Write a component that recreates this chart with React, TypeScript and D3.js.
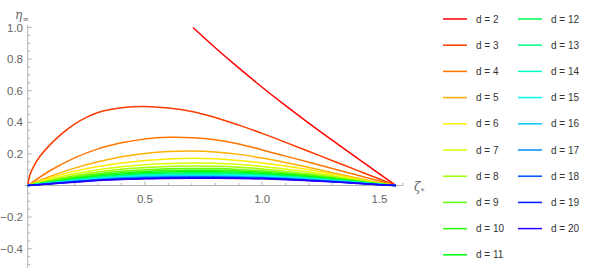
import React from 'react';
import * as d3 from 'd3';

// values
const zetaGrid = [0, 0.1, 0.2, 0.3, 0.4, 0.5, 0.6, 0.7, 0.8, 0.9, 1.0, 1.1, 1.2, 1.3, 1.4, 1.5, 1.5708];

const zetaD2 = [0.705, 0.8, 0.9, 1.0, 1.1, 1.2, 1.3, 1.4, 1.5, 1.5708];
const etaD2 = [1.0, 0.872, 0.744, 0.622, 0.505, 0.393, 0.285, 0.18, 0.073, 0];

const zetaD3 = [0, 0.01, 0.025, 0.05, 0.1, 0.15, 0.2, 0.25, 0.3, 0.4, 0.5, 0.6, 0.7, 0.8, 0.9, 1.0, 1.1, 1.2, 1.3, 1.4, 1.5, 1.5708];
const etaD3 = [0, 0.07, 0.12, 0.18, 0.265, 0.333, 0.388, 0.431, 0.462, 0.492, 0.5, 0.49, 0.468, 0.43, 0.382, 0.33, 0.273, 0.215, 0.157, 0.099, 0.041, 0];

const etaD4 = [0, 0.098, 0.175, 0.232, 0.27, 0.295, 0.305, 0.303, 0.29, 0.263, 0.225, 0.186, 0.147, 0.107, 0.068, 0.028, 0];
const etaD5 = [0, 0.06, 0.11, 0.15, 0.182, 0.203, 0.215, 0.218, 0.212, 0.197, 0.174, 0.146, 0.114, 0.081, 0.049, 0.017, 0];
const etaD6 = [0, 0.05, 0.09, 0.12, 0.142, 0.158, 0.168, 0.172, 0.169, 0.159, 0.143, 0.123, 0.099, 0.072, 0.044, 0.015, 0];
const etaD7 = [0, 0.04, 0.074, 0.1, 0.119, 0.132, 0.14, 0.143, 0.141, 0.133, 0.121, 0.104, 0.085, 0.062, 0.038, 0.013, 0];
const etaD8 = [0, 0.034, 0.063, 0.086, 0.103, 0.114, 0.121, 0.123, 0.122, 0.116, 0.105, 0.091, 0.074, 0.055, 0.034, 0.012, 0];
const etaD9 = [0, 0.029, 0.055, 0.075, 0.09, 0.1, 0.106, 0.108, 0.107, 0.102, 0.093, 0.081, 0.066, 0.049, 0.03, 0.011, 0];
const etaD10 = [0, 0.025, 0.048, 0.066, 0.08, 0.089, 0.095, 0.097, 0.096, 0.092, 0.084, 0.073, 0.06, 0.044, 0.027, 0.01, 0];
const etaD11 = [0, 0.022, 0.043, 0.06, 0.072, 0.081, 0.086, 0.088, 0.087, 0.084, 0.077, 0.067, 0.055, 0.04, 0.025, 0.009, 0];
const etaD12 = [0, 0.02, 0.039, 0.054, 0.066, 0.074, 0.078, 0.08, 0.08, 0.077, 0.071, 0.062, 0.05, 0.037, 0.023, 0.008, 0];
const etaD13 = [0, 0.018, 0.035, 0.05, 0.061, 0.068, 0.072, 0.074, 0.074, 0.071, 0.066, 0.057, 0.047, 0.035, 0.021, 0.008, 0];
const etaD14 = [0, 0.017, 0.033, 0.046, 0.056, 0.063, 0.067, 0.068, 0.068, 0.066, 0.061, 0.053, 0.044, 0.032, 0.02, 0.007, 0];
const etaD15 = [0, 0.015, 0.03, 0.043, 0.052, 0.058, 0.062, 0.063, 0.063, 0.061, 0.057, 0.05, 0.041, 0.03, 0.019, 0.007, 0];
const etaD16 = [0, 0.014, 0.028, 0.04, 0.049, 0.055, 0.058, 0.059, 0.059, 0.057, 0.053, 0.047, 0.038, 0.028, 0.018, 0.006, 0];
const etaD17 = [0, 0.013, 0.026, 0.037, 0.046, 0.051, 0.054, 0.055, 0.055, 0.053, 0.05, 0.044, 0.036, 0.027, 0.017, 0.006, 0];
const etaD18 = [0, 0.012, 0.024, 0.035, 0.043, 0.048, 0.051, 0.052, 0.052, 0.05, 0.047, 0.041, 0.034, 0.025, 0.016, 0.005, 0];
const etaD19 = [0, 0.011, 0.023, 0.033, 0.04, 0.045, 0.048, 0.049, 0.049, 0.047, 0.044, 0.039, 0.032, 0.024, 0.015, 0.005, 0];
const etaD20 = [0, 0.011, 0.021, 0.031, 0.038, 0.043, 0.045, 0.046, 0.046, 0.045, 0.042, 0.037, 0.03, 0.023, 0.014, 0.005, 0];

const yTicks = [-0.4, -0.2, 0.2, 0.4, 0.6, 0.8, 1.0];
const xTicks = [0.5, 1.0, 1.5];

const series = [
  { d: 2, zeta: zetaD2, eta: etaD2 },
  { d: 3, zeta: zetaD3, eta: etaD3 },
  ...[etaD4, etaD5, etaD6, etaD7, etaD8, etaD9, etaD10, etaD11, etaD12, etaD13, etaD14, etaD15, etaD16, etaD17, etaD18, etaD19, etaD20]
    .map((eta, i) => ({ d: i + 4, zeta: zetaGrid, eta })),
];

const hueFor = (d: number) => d3.hsl(((d - 2) / 18) * 0.69 * 360, 1, 0.5).toString();

const App = () => {
  const x = d3.scaleLinear().domain([0, 1.5]).range([27.7, 379.4]);
  const y = d3.scaleLinear().domain([0, 1]).range([185.5, 27.5]);

  const line = d3.line<[number, number]>()
    .x(p => x(p[0]))
    .y(p => y(p[1]))
    .curve(d3.curveCatmullRom.alpha(0.5));

  const axisColor = '#b3b3b3';
  const labelColor = '#666';
  const font = '"Liberation Sans", Arial, sans-serif';

  const yMinor = d3.range(-10, 21).map(i => i * 0.05).filter(v => Math.abs(Math.round(v * 20) % 4) !== 0);
  const xMinor = d3.range(1, 17).map(i => i * 0.1).filter(v => Math.abs(Math.round(v * 10) % 5) !== 0);

  return (
    <svg width={590} height={268} style={{ position: 'absolute', left: 0, top: 0 }} fontFamily={font}>
      <rect width={590} height={268} fill="white" />

      {/* axes */}
      <line x1={x(0)} x2={x(0)} y1={y(1.016)} y2={268} stroke={axisColor} />
      <line x1={x(-0.012)} x2={x(1.6)} y1={y(0)} y2={y(0)} stroke={axisColor} />
      {yTicks.map(t => (
        <g key={'y' + t}>
          <line x1={x(0)} x2={x(0) + 4} y1={y(t)} y2={y(t)} stroke={axisColor} />
          <text x={23} y={y(t)} dy="0.35em" textAnchor="end" fontSize={11.5} fill={labelColor}>
            {t < 0 ? '\u2212' + Math.abs(t).toFixed(1) : t.toFixed(1)}
          </text>
        </g>
      ))}
      {yMinor.map(t => (
        <line key={'ym' + t} x1={x(0)} x2={x(0) + 2.5} y1={y(t)} y2={y(t)} stroke={axisColor} />
      ))}
      {xTicks.map(t => (
        <g key={'x' + t}>
          <line x1={x(t)} x2={x(t)} y1={y(0)} y2={y(0) - 4} stroke={axisColor} />
          <text x={x(t)} y={y(0) + 13} dy="0.35em" textAnchor="middle" fontSize={11.5} fill={labelColor}>
            {t.toFixed(1)}
          </text>
        </g>
      ))}
      {xMinor.map(t => (
        <line key={'xm' + t} x1={x(t)} x2={x(t)} y1={y(0)} y2={y(0) - 2.5} stroke={axisColor} />
      ))}

      <text x={15} y={19} fontSize={12} fill={labelColor} fontFamily='"DejaVu Serif", serif' fontStyle="italic">
        η<tspan fontSize={8} dy={3} fontStyle="normal">∞</tspan>
      </text>
      <text x={414} y={191} fontSize={12} fill={labelColor} fontFamily='"DejaVu Serif", serif' fontStyle="italic">
        ζ<tspan fontSize={8} dy={3} fontStyle="normal">*</tspan>
      </text>

      {/* curves */}
      {series.map(s => (
        <path
          key={s.d}
          d={line(s.zeta.map((z, i) => [z, s.eta[i]] as [number, number])) || ''}
          fill="none"
          stroke={hueFor(s.d)}
          strokeWidth={1.5}
        />
      ))}

      {/* legend */}
      {series.map((s, i) => {
        const col = i < 10 ? 0 : 1;
        const row = i < 10 ? i : i - 10;
        const lx = col === 0 ? 443 : 518;
        const ly = 19 + row * 26.2;
        return (
          <g key={'lg' + s.d}>
            <line x1={lx} x2={lx + 24} y1={ly} y2={ly} stroke={hueFor(s.d)} strokeWidth={1.5} />
            <text x={lx + 33} y={ly} dy="0.35em" fontSize={10} fill="#333">
              d = {s.d}
            </text>
          </g>
        );
      })}
    </svg>
  );
};

export default App;
